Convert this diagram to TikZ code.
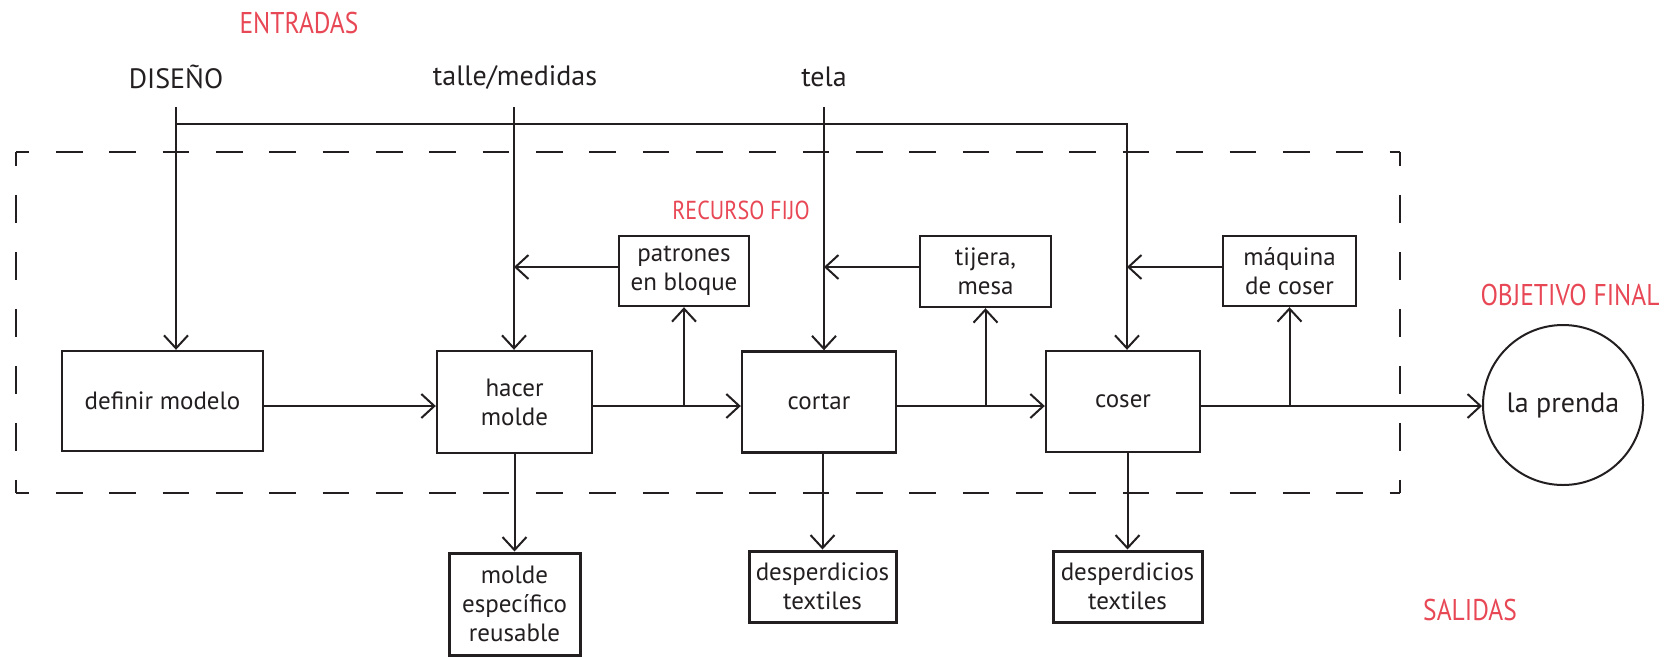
\documentclass[tikz,border=0pt]{standalone}
\usepackage{fontspec}
\setmainfont{PT Sans}
\newfontfamily\tagfont[FakeStretch=0.85]{PT Sans}
\usetikzlibrary{arrows.meta}
\definecolor{ink}{HTML}{231F20}
\definecolor{tagred}{HTML}{E84855}
\begin{document}
\begin{tikzpicture}[x=1pt,y=-1pt,
  every node/.style={text=ink, font=\fontsize{25}{29}\selectfont},
  big/.style={font=\fontsize{28}{32}\selectfont},
  proc/.style={draw=ink, line width=2.4pt, inner sep=0pt, align=center},
  outbox/.style={draw=ink, line width=3pt, inner sep=0pt, align=center},
  tag/.style={text=tagred, font=\tagfont\fontsize{30}{30}\selectfont},
  smalltag/.style={text=tagred, font=\tagfont\fontsize{26}{26}\selectfont},
  flow/.style={draw=ink, line width=2pt, -{Straight Barb[length=13pt,width=24pt,line width=2pt]}},
  frameh/.style={draw=ink, line width=2.6pt, dash pattern=on 26.67pt off 26.67pt, dash phase=13.33pt},
  framev/.style={draw=ink, line width=2.6pt, dash pattern=on 28.5pt off 28.5pt, dash phase=14.25pt}
]
\useasboundingbox (0,0) rectangle (1673,657);

% section labels
\node[tag] (entradas) at (299,23) {ENTRADAS};
\node[smalltag] (recurso) at (741,210) {RECURSO FIJO};
\node[tag] (objetivo) at (1570,295) {OBJETIVO FINAL};
\node[tag] (salidas) at (1470,610) {SALIDAS};

% inputs
\node[big] (diseno) at (176,77) {DISEÑO};
\node[big] (talle) at (515,77) {talle/medidas};
\node[big] (tela) at (824,77) {tela};

% process boundary
\draw[frameh] (16,152) -- (1400,152);
\draw[frameh] (16,493) -- (1400,493);
\draw[framev] (16,152) -- (16,493);
\draw[framev] (1400,152) -- (1400,493);

% process steps
\node[proc, minimum width=201pt, minimum height=100pt] (definir) at (162.5,401) {definir modelo};
\node[proc, minimum width=155pt, minimum height=102pt] (hacer) at (514.5,402) {hacer\\molde};
\node[proc, minimum width=154pt, minimum height=101pt] (cortar) at (819,402) {cortar};
\node[proc, minimum width=154pt, minimum height=101pt] (coser) at (1123,401.5) {coser};

% fixed resources
\node[proc, minimum width=130pt, minimum height=70pt] (patrones) at (684,271) {patrones\\en bloque};
\node[proc, minimum width=131pt, minimum height=71pt] (tijera) at (985.5,271.5) {tijera,\\mesa};
\node[proc, minimum width=133pt, minimum height=70pt] (maquina) at (1289.5,271) {máquina\\de coser};

% outputs
\node[outbox, minimum width=131pt, minimum height=102pt] (molde) at (514.5,604) {molde\\específico\\reusable};
\node[outbox, minimum width=147pt, minimum height=71pt] (desp1) at (822.5,586.5) {desperdicios\\textiles};
\node[outbox, minimum width=149pt, minimum height=71pt] (desp2) at (1127.5,586.5) {desperdicios\\textiles};

% final goal
\node[big, draw=ink, line width=2pt, circle, minimum size=160pt, inner sep=0pt] (prenda) at (1563,405) {la prenda};

% helper coordinates
\coordinate (dTop) at (176,107);
\coordinate (tTop) at (514,107);
\coordinate (lTop) at (824,107);
\coordinate (dJoin) at (176,124);
\coordinate (sew) at (1127,124);
\coordinate (row) at (0,406);
\coordinate (fb) at (0,267);

% input lines
\draw[flow] (dTop) -- (dTop |- definir.north);
\draw[flow] (tTop) -- (tTop |- hacer.north);
\draw[flow] (lTop) -- (lTop |- cortar.north);
\draw[flow] (dJoin) -| (sew |- coser.north);

% main flow
\draw[flow] (definir.east |- row) -- (hacer.west |- row);
\draw[flow] (hacer.east |- row) -- (cortar.west |- row);
\draw[flow] (cortar.east |- row) -- (coser.west |- row);
\draw[flow] (coser.east |- row) -- (prenda.west |- row);

% branches to resources
\draw[flow] (patrones.south |- row) -- (patrones.south);
\draw[flow] (tijera.south |- row) -- (tijera.south);
\draw[flow] (maquina.south |- row) -- (maquina.south);

% resources feeding back
\draw[flow] (patrones.west |- fb) -- (tTop |- fb);
\draw[flow] (tijera.west |- fb) -- (lTop |- fb);
\draw[flow] (maquina.west |- fb) -- (sew |- fb);

% outputs
\draw[flow] (hacer.south) -- (molde.north);
\draw[flow] (desp1.north |- cortar.south) -- (desp1.north);
\draw[flow] (desp2.north |- coser.south) -- (desp2.north);
\end{tikzpicture}
\end{document}
